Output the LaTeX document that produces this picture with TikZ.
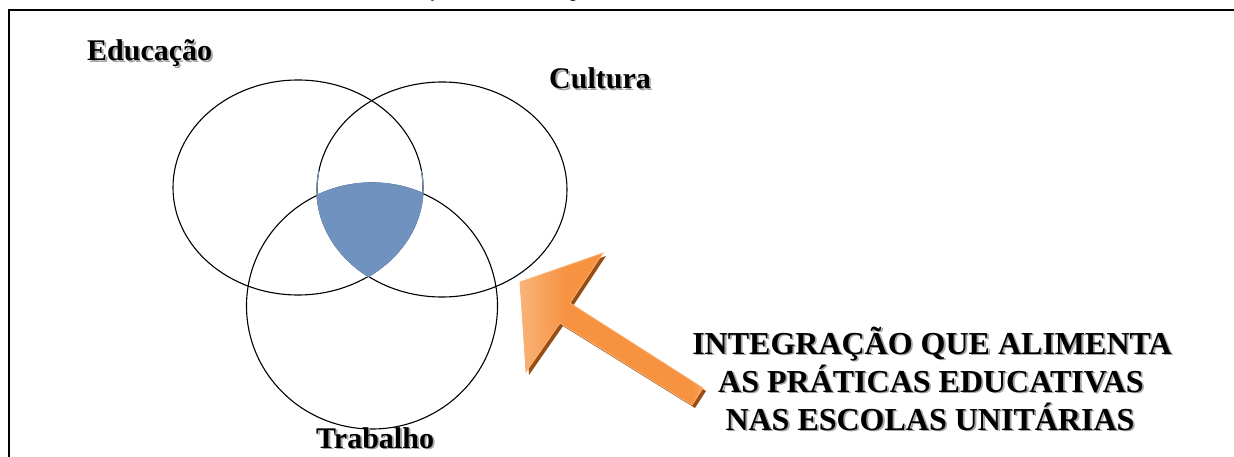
\documentclass[tikz,border=0pt]{standalone}
\usepackage{fontspec}
\setmainfont{Liberation Serif}
\newfontfamily\capfont{Carlito}
\definecolor{blueF}{RGB}{112,146,190}
\definecolor{orM}{RGB}{246,146,64}
\definecolor{orL}{RGB}{250,186,132}
\definecolor{orS}{RGB}{152,78,18}
\definecolor{orEdge}{RGB}{250,178,118}
\pgfdeclarehorizontalshading{arrowshade}{100bp}{color(0bp)=(orL); color(22bp)=(orL); color(38bp)=(orM); color(72bp)=(orM); color(80bp)=(orL); color(100bp)=(orL)}
\tikzset{
  lbl/.style={font=\bfseries\fontsize{30}{30}\selectfont, inner sep=0pt, anchor=base west},
  big/.style={font=\bfseries\fontsize{32}{38}\selectfont, inner sep=0pt, anchor=base},
  shd/.style={text=black!35, xshift=1.8pt, yshift=-1.8pt},
  venn/.style={draw=black, line width=1.1pt},
  frameline/.style={draw=black, line width=2pt},
}
\newcommand{\shlabel}[4]{%
  \node[#1, shd] at #3 {#4};
  \node[#1] (#2) at #3 {#4};}
\begin{document}
\begin{tikzpicture}[x=1pt,y=-1pt]
\useasboundingbox (0,0) rectangle (1234,457);
% caption fragments cut off by the top edge
\begin{scope}
  \clip (0,0) rectangle (1234,9);
  \node[font=\capfont\fontsize{17}{17}\selectfont, inner sep=0pt, anchor=base] (capA) at (432,-1.5) {ç};
  \node[font=\capfont\fontsize{17}{17}\selectfont, inner sep=0pt, anchor=base] (capB) at (573,-1.5) {g};
\end{scope}
% frame
\coordinate (fTL) at (9,10.5);
\coordinate (fTR) at (1234,10.5);
\coordinate (fBL) at (9,457);
\draw[frameline, line cap=rect] (fBL) -- (fTL) -- (fTR);
% circles
\draw[venn] (298,187.5) ellipse [x radius=125, y radius=107.5];
\draw[venn] (442,189.5) ellipse [x radius=125, y radius=107.5];
\draw[venn] (372,306) ellipse [x radius=125.5, y radius=123];
% shaded intersection (covers the arcs)
\begin{scope}
  \clip (298,187.5) ellipse [x radius=125.7, y radius=108.2];
  \clip (442,189.5) ellipse [x radius=125.7, y radius=108.2];
  \fill[blueF] (372,306) ellipse [x radius=126.2, y radius=123.7];
\end{scope}
\begin{scope}
  \clip (305,172) rectangle (435,196);
  \draw[blueF, line width=1.1pt] (298,187.5) ellipse [x radius=125, y radius=107.5];
  \draw[blueF, line width=1.1pt] (442,189.5) ellipse [x radius=125, y radius=107.5];
\end{scope}
% labels
\shlabel{lbl}{edu}{(87,60.5)}{Educação}
\shlabel{lbl}{cul}{(549,89)}{Cultura}
\shlabel{lbl}{tra}{(316,448)}{Trabalho}
% arrow
\fill[orS] (523,285) -- (606,256) -- (573,306) -- (706,391) -- (695,408) -- (563,326) -- (529,375) -- cycle;
\path[draw=orEdge, line width=0.8pt, shading=arrowshade, shading angle=0]
  (520,282) -- (603,253) -- (570,303) -- (703,388) -- (692,405) -- (560,323) -- (526,372) -- cycle;
% big text
\shlabel{big}{t1}{(932,354)}{INTEGRAÇÃO QUE ALIMENTA}
\shlabel{big}{t2}{(931,392)}{AS PRÁTICAS EDUCATIVAS}
\shlabel{big}{t3}{(930,430)}{NAS ESCOLAS UNITÁRIAS}
\end{tikzpicture}
\end{document}
